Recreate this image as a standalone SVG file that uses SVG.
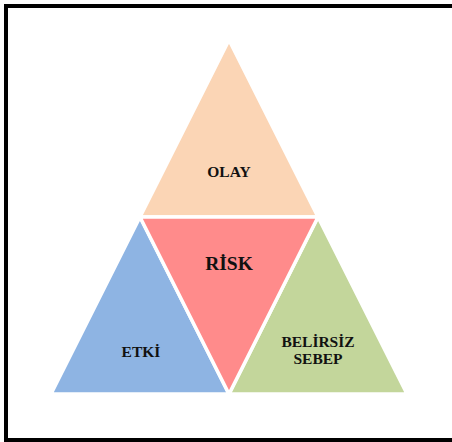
<svg xmlns="http://www.w3.org/2000/svg" width="452" height="442" viewBox="0 0 452 442">
  <style>
    .tri { stroke: #ffffff; stroke-width: 3.5; stroke-linejoin: miter; }
    .lbl { font-family: "Liberation Serif", "Times New Roman", serif; font-weight: bold; fill: #111111; text-anchor: middle; }
  </style>
  <rect x="0" y="0" width="452" height="442" fill="#ffffff"/>
  <!-- outer frame -->
  <rect x="6" y="6" width="452" height="434" fill="none" stroke="#000000" stroke-width="4"/>

  <g id="olay">
    <polygon class="tri" points="229,40 318,217 140,217" fill="#FBD5B5"/>
    <text class="lbl" x="229" y="177" font-size="15.5">OLAY</text>
  </g>
  <g id="etki">
    <polygon class="tri" points="140,217 229,394 51,394" fill="#8EB4E3"/>
    <text class="lbl" x="141" y="357" font-size="15.5">ETKİ</text>
  </g>
  <g id="belirsiz-sebep">
    <polygon class="tri" points="318,217 407,394 229,394" fill="#C3D69B"/>
    <text class="lbl" x="318" y="347" font-size="15.5">BELİRSİZ</text>
    <text class="lbl" x="318" y="364" font-size="15.5">SEBEP</text>
  </g>
  <g id="risk">
    <polygon class="tri" points="140,217 318,217 229,394" fill="#FF8B8B"/>
    <text class="lbl" x="229" y="270" font-size="19.5">RİSK</text>
  </g>
  <g id="connectors"/>
</svg>
